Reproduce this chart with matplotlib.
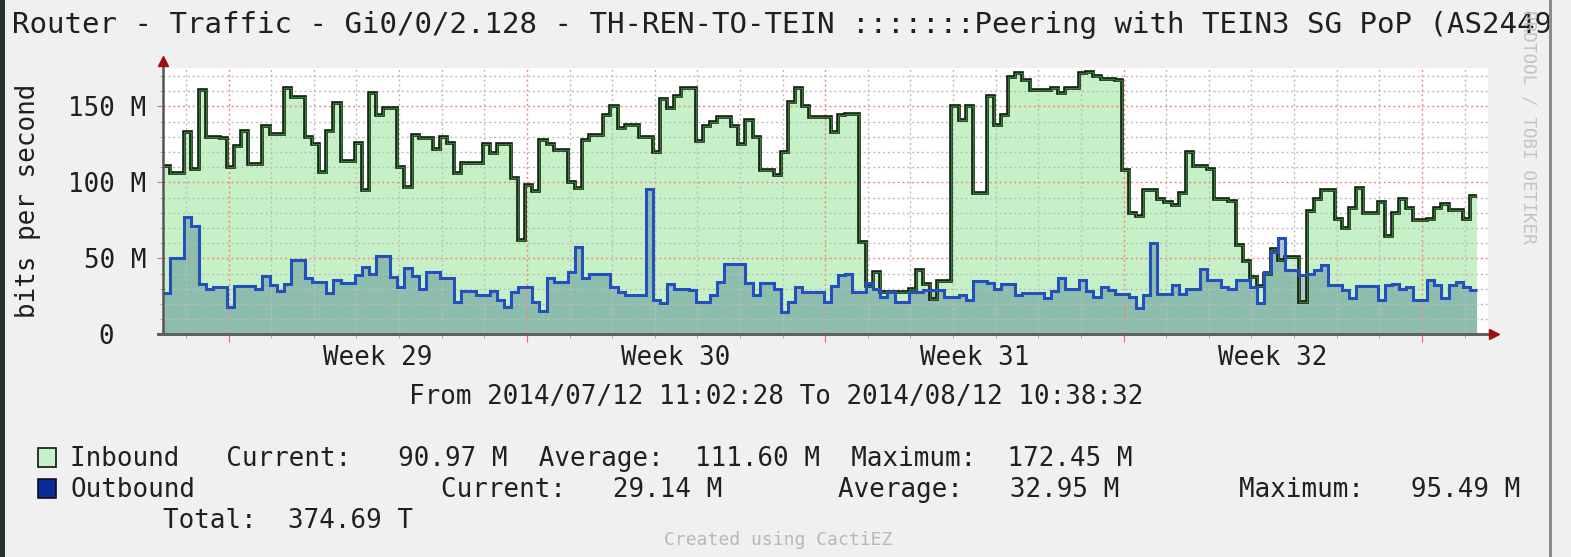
import datetime as dt
import matplotlib
matplotlib.use("Agg")
import matplotlib.pyplot as plt
import matplotlib.dates as mdates
from matplotlib.patches import Rectangle
from matplotlib.ticker import MultipleLocator, FixedLocator, NullFormatter
from matplotlib.transforms import blended_transform_factory

# time range of the graph (4 hour consolidation steps)
start = dt.datetime(2014, 7, 12, 11, 2, 28)
end = dt.datetime(2014, 8, 12, 10, 38, 32)
step_hours = 4

# traffic in Mbit/s
inbound = [111, 106, 106, 133, 109, 161, 130, 130, 129, 110,
           124, 134, 112, 112, 137, 132, 132, 162, 156, 156,
           130, 125, 107, 134, 152, 114, 114, 126, 95, 159,
           144, 149, 149, 110, 97, 131, 129, 129, 122, 130,
           126, 106, 113, 113, 113, 125, 119, 125, 125, 103,
           62, 98, 94, 128, 125, 121, 121, 100, 96, 128,
           131, 131, 144, 150, 136, 138, 138, 130, 130, 120,
           155, 149, 157, 162, 162, 127, 137, 140, 143, 143,
           137, 125, 141, 130, 108, 108, 105, 120, 153, 162,
           150, 143, 143, 143, 133, 144, 145, 145, 61, 32,
           41, 28, 28, 28, 28, 30, 42, 33, 23, 35,
           35, 150, 141, 150, 93, 93, 157, 138, 144, 169,
           172, 167, 161, 161, 161, 162, 159, 162, 162, 172,
           172.45, 170, 168, 168, 167, 108, 80, 78, 95, 95,
           89, 87, 85, 93, 120, 111, 111, 109, 89, 89,
           88, 59, 48, 38, 32, 40, 56, 49, 51, 51,
           21.5, 81, 89, 95, 95, 76, 70, 83, 96, 80,
           80, 87, 65, 80, 89, 83, 75, 75, 76, 83,
           86, 82, 82, 76, 90.97]

outbound = [27, 50, 50, 77, 71.5, 33, 30, 31, 31, 18,
            32, 32, 32, 30, 38.6, 32.5, 28.5, 33, 49, 49,
            37, 34.6, 34.6, 27.4, 35.7, 34, 34, 39, 44.5, 40,
            51.5, 51.5, 38, 31, 43.4, 38.6, 30, 41, 41, 37,
            37, 21.5, 28.5, 28.5, 26, 26, 28.5, 22.6, 18, 27.6,
            31, 31, 21.5, 15.4, 37, 34.6, 34.6, 41, 57.7, 37,
            40, 40, 40, 31, 28, 26, 26, 26, 95.49, 22.6,
            20.4, 33, 30, 30, 29, 21.5, 21.5, 26, 34.6, 46,
            46, 46, 33.5, 26, 33.5, 33.5, 30, 15, 21, 31,
            27.6, 27.6, 27.6, 21.5, 31.8, 39, 40, 27.6, 27.6, 33.5,
            30, 24.8, 27.6, 21.5, 21.5, 27.6, 27.6, 29, 29, 29,
            24.8, 24.8, 26, 22.6, 35, 35, 33.5, 30, 33, 33,
            26, 27, 27, 27, 24, 28.5, 37, 30, 30, 35.7,
            28.5, 24.8, 31, 29, 26.3, 26.3, 24.8, 17.5, 26, 60,
            26.3, 26.3, 32.5, 26.3, 30, 30, 42.8, 35.7, 35.7, 31,
            30, 35.7, 35.7, 31, 20.4, 41, 54, 63.6, 42, 42,
            39, 40, 42, 45.6, 32.5, 32.5, 29, 24, 32, 32,
            32, 22.6, 32.5, 33, 30, 31, 22.6, 22.6, 35.7, 32.5,
            23.7, 32.5, 34.6, 31, 29.14]

y_ticks = [0, 50, 100, 150]
y_labels = ["0  ", "50 M", "100 M", "150 M"]
week_labels = ["Week 29", "Week 30", "Week 31", "Week 32"]
week_mid = [dt.datetime(2014, 7, 17, 12), dt.datetime(2014, 7, 24, 12),
            dt.datetime(2014, 7, 31, 12), dt.datetime(2014, 8, 7, 12)]

title = ("Router - Traffic - Gi0/0/2.128 - TH-REN-TO-TEIN "
         ":::::::Peering with TEIN3 SG PoP (AS2449")
in_stats = ["90.97 M", "111.60 M", "172.45 M"]
out_stats = ["29.14 M", "32.95 M", "95.49 M"]
total = "374.69 T"

W, H = 1571, 557
mono = "DejaVu Sans Mono"
txt = "#202020"


def fx(px):
    return px / W


def fy(py):
    return 1 - py / H


fig = plt.figure(figsize=(W / 100, H / 100), dpi=100, facecolor="#F0F0F0")
ax = fig.add_axes([fx(163), fy(334.3), (1488 - 163) / W, (334.3 - 68.3) / H])
ax.set_facecolor("white")
for s in ax.spines.values():
    s.set_visible(False)

edges = mdates.date2num([start + dt.timedelta(hours=step_hours * i)
                         for i in range(len(inbound) + 1)])

ax.stairs(inbound, edges, fill=True, color="#C6F1C6", lw=0, zorder=1)
ax.stairs(outbound, edges, fill=True, color=(0.16, 0.40, 0.51, 0.36), lw=0, zorder=1.2)
ax.stairs(inbound, edges, baseline=None, color="#101510", lw=2.6, zorder=3)
ax.stairs(inbound, edges, baseline=None, color="#2F7F2F", lw=1.0, zorder=3.1)
ax.stairs(outbound, edges, baseline=None, color="#2450BE", lw=2.2, zorder=3.2)

ax.xaxis_date()
ax.set_xlim(mdates.date2num(start), mdates.date2num(end) + 0.108)
ax.set_ylim(0, 175)

ax.xaxis.set_major_locator(mdates.WeekdayLocator(byweekday=mdates.MO))
ax.xaxis.set_minor_locator(mdates.DayLocator())
ax.xaxis.set_major_formatter(NullFormatter())
ax.xaxis.set_minor_formatter(NullFormatter())
ax.yaxis.set_major_locator(FixedLocator(y_ticks))
ax.yaxis.set_minor_locator(MultipleLocator(10))
ax.set_yticks(y_ticks, y_labels)

ax.set_axisbelow(False)
ax.grid(which="minor", color="#BDBDBD", ls=(0, (1.5, 2)), lw=1)
ax.grid(which="major", color="#FF8080", ls=(0, (1.5, 2)), lw=1)

ax.tick_params(axis="x", which="major", length=6, color="#FF6060", direction="out")
ax.tick_params(axis="x", which="minor", length=3, color="#999999", direction="out")
ax.tick_params(axis="y", which="major", length=4, color="#FF6060", pad=8,
               labelsize=18.6, labelcolor=txt)
ax.tick_params(axis="y", which="minor", length=2, color="#999999")
for lab in ax.get_yticklabels():
    lab.set_family(mono)

# axis lines with arrow heads
ax.plot([0, 0], [0, 1.012], transform=ax.transAxes, clip_on=False,
        color="#555555", lw=1.8, zorder=5)
ax.plot([-0.004, 1.001], [0, 0], transform=ax.transAxes, clip_on=False,
        color="#606060", lw=2.2, zorder=5)
ax.plot([0], [1.028], marker="^", ms=7, color="#A01010", transform=ax.transAxes,
        clip_on=False, zorder=6)
ax.plot([1.0045], [0], marker=">", ms=7, color="#A01010", transform=ax.transAxes,
        clip_on=False, zorder=6)

bt = blended_transform_factory(ax.transData, fig.transFigure)
for d, lab in zip(week_mid, week_labels):
    ax.text(mdates.date2num(d), fy(365), lab, transform=bt, ha="center",
            va="baseline", family=mono, fontsize=18.6, color=txt)

fig.text(fx(12), fy(33), title, family=mono, fontsize=21, color=txt, va="baseline")
fig.text(fx(28), fy(201), "bits per second", rotation=90, ha="center", va="center",
         family=mono, fontsize=18.6, color=txt)
fig.text(fx(776), fy(404), "From 2014/07/12 11:02:28 To 2014/08/12 10:38:32",
         ha="center", va="baseline", family=mono, fontsize=18.6, color=txt)

# legend
fig.add_artist(Rectangle((fx(38), fy(467)), 18 / W, 19 / H, transform=fig.transFigure,
                         facecolor="#C6F1C6", edgecolor="#111111", lw=1.2))
fig.add_artist(Rectangle((fx(38), fy(498)), 18 / W, 19 / H, transform=fig.transFigure,
                         facecolor="#0A2C96", edgecolor="#111111", lw=1.2))
fig.text(fx(70), fy(466),
         "Inbound   Current:   %s  Average:  %s  Maximum:  %s" % tuple(in_stats),
         va="baseline", family=mono, fontsize=18.6, color=txt)
fig.text(fx(70), fy(497), "Outbound", va="baseline", family=mono, fontsize=18.6, color=txt)
for x, name, val in zip([441, 838, 1239], ["Current:", "Average:", "Maximum:"], out_stats):
    fig.text(fx(x), fy(497), "%s   %s" % (name, val), va="baseline", family=mono,
             fontsize=18.6, color=txt)
fig.text(fx(163), fy(528), "Total:  " + total, va="baseline", family=mono,
         fontsize=18.6, color=txt)
fig.text(fx(778), fy(545), "Created using CactiEZ", ha="center", va="baseline",
         family=mono, fontsize=13, color="#B8B8B8")
fig.text(fx(1528), fy(10), "RRDTOOL / TOBI OETIKER", rotation=270, ha="center", va="top",
         family=mono, fontsize=12.7, color="#C4C4C4")

# right border of the image and dark edge on the left
fig.add_artist(Rectangle((fx(1549), 0), 22 / W, 1, transform=fig.transFigure,
                         facecolor="#F0F0F0", edgecolor="none", zorder=20))
fig.add_artist(Rectangle((fx(1549), 0), 3 / W, 1, transform=fig.transFigure,
                         facecolor="#8C8C8C", edgecolor="none", zorder=21))
fig.add_artist(Rectangle((0, 0), 5 / W, 1, transform=fig.transFigure,
                         facecolor="#26352B", edgecolor="none", zorder=21))

fig.savefig("out.png", dpi=100, facecolor=fig.get_facecolor())
